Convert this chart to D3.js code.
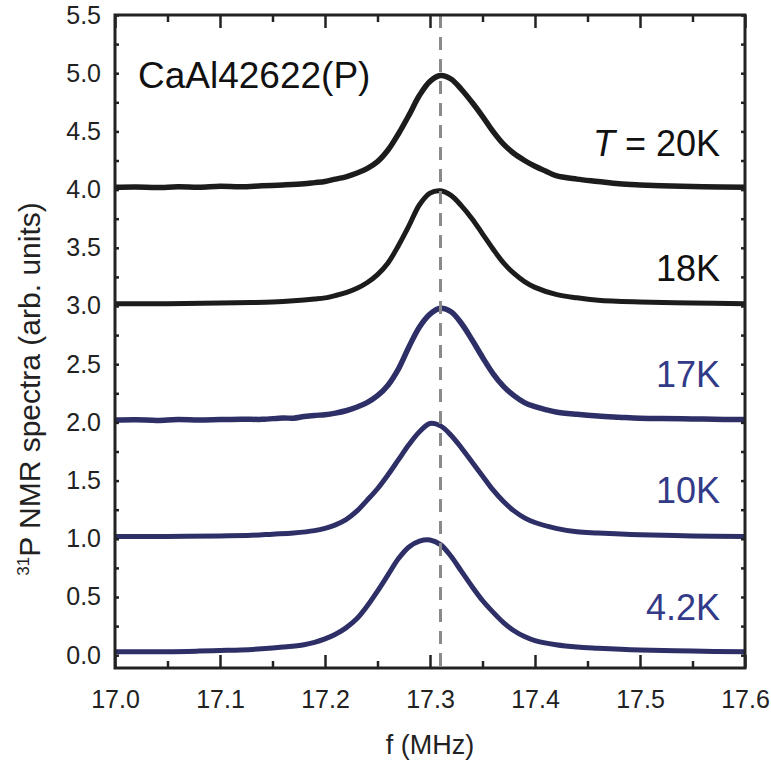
<!DOCTYPE html>
<html>
<head>
    <script src="https://d3js.org/d3.v7.min.js"></script>
    <style>
        body { margin: 0; background: #fff; }
        text { font-family: "Liberation Sans", Arial, sans-serif; }
    </style>
</head>
<body>
<script>
// spectra: frequency (MHz) and intensity (offset, arb. units)
const f20 = [17.00,17.02,17.04,17.06,17.08,17.10,17.12,17.14,17.16,17.18,17.19,17.20,17.21,17.22,17.23,17.24,17.25,17.26,17.27,17.28,17.29,17.30,17.31,17.32,17.33,17.34,17.35,17.36,17.37,17.38,17.39,17.40,17.41,17.42,17.44,17.46,17.48,17.50,17.53,17.56,17.60];
const y20 = [4.02,4.023,4.017,4.024,4.02,4.028,4.025,4.033,4.04,4.05,4.06,4.07,4.09,4.11,4.14,4.18,4.24,4.34,4.48,4.64,4.81,4.93,4.98,4.95,4.86,4.75,4.63,4.50,4.39,4.31,4.25,4.20,4.16,4.12,4.09,4.07,4.05,4.04,4.03,4.025,4.02];

const f18 = [17.00,17.05,17.10,17.13,17.15,17.17,17.19,17.20,17.21,17.22,17.23,17.24,17.25,17.26,17.27,17.28,17.29,17.30,17.31,17.32,17.33,17.34,17.35,17.36,17.37,17.38,17.39,17.40,17.42,17.44,17.46,17.50,17.55,17.60];
const y18 = [3.02,3.02,3.025,3.03,3.035,3.045,3.06,3.07,3.09,3.115,3.15,3.20,3.27,3.37,3.52,3.69,3.87,3.97,3.99,3.95,3.86,3.75,3.62,3.49,3.37,3.28,3.21,3.16,3.10,3.07,3.05,3.035,3.025,3.02];

const f17 = [17.00,17.02,17.04,17.06,17.08,17.10,17.12,17.14,17.16,17.17,17.18,17.19,17.20,17.21,17.22,17.23,17.24,17.25,17.26,17.27,17.28,17.29,17.30,17.31,17.32,17.33,17.34,17.35,17.36,17.37,17.38,17.39,17.40,17.41,17.42,17.44,17.46,17.48,17.50,17.52,17.55,17.58,17.60];
const y17 = [2.02,2.023,2.017,2.024,2.02,2.024,2.028,2.026,2.038,2.036,2.05,2.06,2.066,2.08,2.10,2.13,2.17,2.23,2.32,2.46,2.65,2.82,2.93,2.98,2.95,2.85,2.71,2.56,2.42,2.31,2.23,2.17,2.135,2.11,2.09,2.07,2.055,2.045,2.036,2.034,2.03,2.025,2.025];

const f10 = [17.00,17.05,17.10,17.13,17.15,17.17,17.19,17.20,17.21,17.22,17.23,17.24,17.25,17.26,17.27,17.28,17.29,17.30,17.31,17.32,17.33,17.34,17.35,17.36,17.37,17.38,17.39,17.40,17.42,17.44,17.46,17.50,17.55,17.60];
const y10 = [1.02,1.02,1.025,1.03,1.04,1.05,1.07,1.09,1.12,1.165,1.235,1.33,1.43,1.55,1.68,1.81,1.92,1.99,1.97,1.89,1.78,1.66,1.54,1.42,1.32,1.24,1.18,1.14,1.09,1.06,1.05,1.035,1.025,1.02];

const f4 = [17.00,17.05,17.08,17.10,17.12,17.14,17.16,17.18,17.19,17.20,17.21,17.22,17.23,17.24,17.25,17.26,17.27,17.28,17.29,17.30,17.31,17.32,17.33,17.34,17.35,17.36,17.37,17.38,17.39,17.40,17.42,17.44,17.46,17.50,17.55,17.60];
const y4 = [0.03,0.03,0.035,0.04,0.045,0.055,0.07,0.09,0.11,0.14,0.18,0.235,0.31,0.42,0.55,0.69,0.83,0.93,0.98,0.99,0.95,0.85,0.72,0.59,0.47,0.37,0.28,0.21,0.16,0.125,0.09,0.07,0.06,0.045,0.035,0.03];

const labels = ['20K', '18K', '17K', '10K', '4.2K'];
const labelY = [4.40, 3.33, 2.42, 1.42, 0.41];
const xTicks = [17.0, 17.1, 17.2, 17.3, 17.4, 17.5, 17.6];
const yTicks = [0.0, 0.5, 1.0, 1.5, 2.0, 2.5, 3.0, 3.5, 4.0, 4.5, 5.0, 5.5];
const markF = 17.31;

const black = '#1c1c1c';
const navy = '#2d2f66';
const navyText = '#333a87';

const series = [
    {f: f20, y: y20, color: black, w: 5.5},
    {f: f18, y: y18, color: black, w: 5},
    {f: f17, y: y17, color: navy, w: 5.5},
    {f: f10, y: y10, color: navy, w: 5},
    {f: f4,  y: y4,  color: navy, w: 5}
];

const width = 771, height = 765;
const margin = {top: 15, right: 26, bottom: 97, left: 115};

const x = d3.scaleLinear()
    .domain([17.0, 17.6])
    .range([margin.left, width - margin.right]);

const y = d3.scaleLinear()
    .domain([-0.11, 5.5])
    .range([height - margin.bottom, margin.top]);

const svg = d3.select('body').append('svg')
    .attr('width', width)
    .attr('height', height);

const line = d3.line()
    .x(d => x(d[0]))
    .y(d => y(d[1]))
    .curve(d3.curveCatmullRom.alpha(0.5));

series.forEach(s => {
    svg.append('path')
        .datum(s.f.map((v, i) => [v, s.y[i]]))
        .attr('fill', 'none')
        .attr('stroke', s.color)
        .attr('stroke-width', s.w)
        .attr('stroke-linejoin', 'round')
        .attr('d', line);
});

// dashed reference line, drawn over the spectra
svg.append('line')
    .attr('x1', x(markF)).attr('x2', x(markF))
    .attr('y1', margin.top).attr('y2', height - margin.bottom)
    .attr('stroke', '#8a8a8a')
    .attr('stroke-width', 3)
    .attr('stroke-dasharray', '13,9');

// axes with inward ticks
const minorX = d3.range(17.05, 17.6, 0.1);
const minorY = d3.range(0.25, 5.5, 0.5);

svg.append('g')
    .attr('transform', `translate(0, ${height - margin.bottom})`)
    .call(d3.axisBottom(x).tickValues(xTicks).tickFormat(d3.format('.1f')).tickSizeInner(-13).tickSizeOuter(0).tickPadding(22));
svg.append('g')
    .attr('transform', `translate(0, ${height - margin.bottom})`)
    .call(d3.axisBottom(x).tickValues(minorX).tickFormat('').tickSizeInner(-7).tickSizeOuter(0));
svg.append('g')
    .attr('transform', `translate(0, ${margin.top})`)
    .call(d3.axisTop(x).tickValues(xTicks).tickFormat('').tickSizeInner(-13).tickSizeOuter(0));
svg.append('g')
    .attr('transform', `translate(0, ${margin.top})`)
    .call(d3.axisTop(x).tickValues(minorX).tickFormat('').tickSizeInner(-7).tickSizeOuter(0));

svg.append('g')
    .attr('transform', `translate(${margin.left}, 0)`)
    .call(d3.axisLeft(y).tickValues(yTicks.concat(minorY)).tickFormat(d => yTicks.includes(d) ? d3.format('.1f')(d) : '').tickSizeInner(-4).tickSizeOuter(0).tickPadding(14));
svg.append('g')
    .attr('transform', `translate(${width - margin.right}, 0)`)
    .call(d3.axisRight(y).tickValues(yTicks.concat(minorY)).tickFormat('').tickSizeInner(-4).tickSizeOuter(0));

svg.selectAll('.domain').remove();
svg.selectAll('.tick line').attr('stroke', '#222').attr('stroke-width', 2.5);
svg.selectAll('.tick text').attr('fill', '#222').style('font-size', '25px');

// frame
svg.append('rect')
    .attr('x', margin.left).attr('y', margin.top)
    .attr('width', width - margin.left - margin.right)
    .attr('height', height - margin.top - margin.bottom)
    .attr('fill', 'none')
    .attr('stroke', '#222')
    .attr('stroke-width', 3);

// axis titles
svg.append('text')
    .attr('x', x(17.3)).attr('y', 754)
    .attr('text-anchor', 'middle')
    .attr('fill', '#222')
    .style('font-size', '27px')
    .text('f (MHz)');

const yl = svg.append('text')
    .attr('transform', 'translate(40, 389) rotate(-90)')
    .attr('text-anchor', 'middle')
    .attr('fill', '#222')
    .style('font-size', '30px');
yl.append('tspan').attr('dy', '-11').style('font-size', '17px').text('31');
yl.append('tspan').attr('dy', '11').text('P NMR spectra (arb. units)');

// annotations
svg.append('text')
    .attr('x', 138).attr('y', 88)
    .attr('fill', '#111')
    .style('font-size', '37px')
    .text('CaAl42622(P)');

labels.forEach((t, i) => {
    const tx = svg.append('text')
        .attr('x', 720).attr('y', y(labelY[i]) + 13)
        .attr('text-anchor', 'end')
        .attr('fill', i < 2 ? '#111' : navyText)
        .style('font-size', '36px');
    if (i === 0) {
        tx.append('tspan').style('font-style', 'italic').text('T');
        tx.append('tspan').text(' = ' + t);
    } else {
        tx.text(t);
    }
});
</script>
</body>
</html>
